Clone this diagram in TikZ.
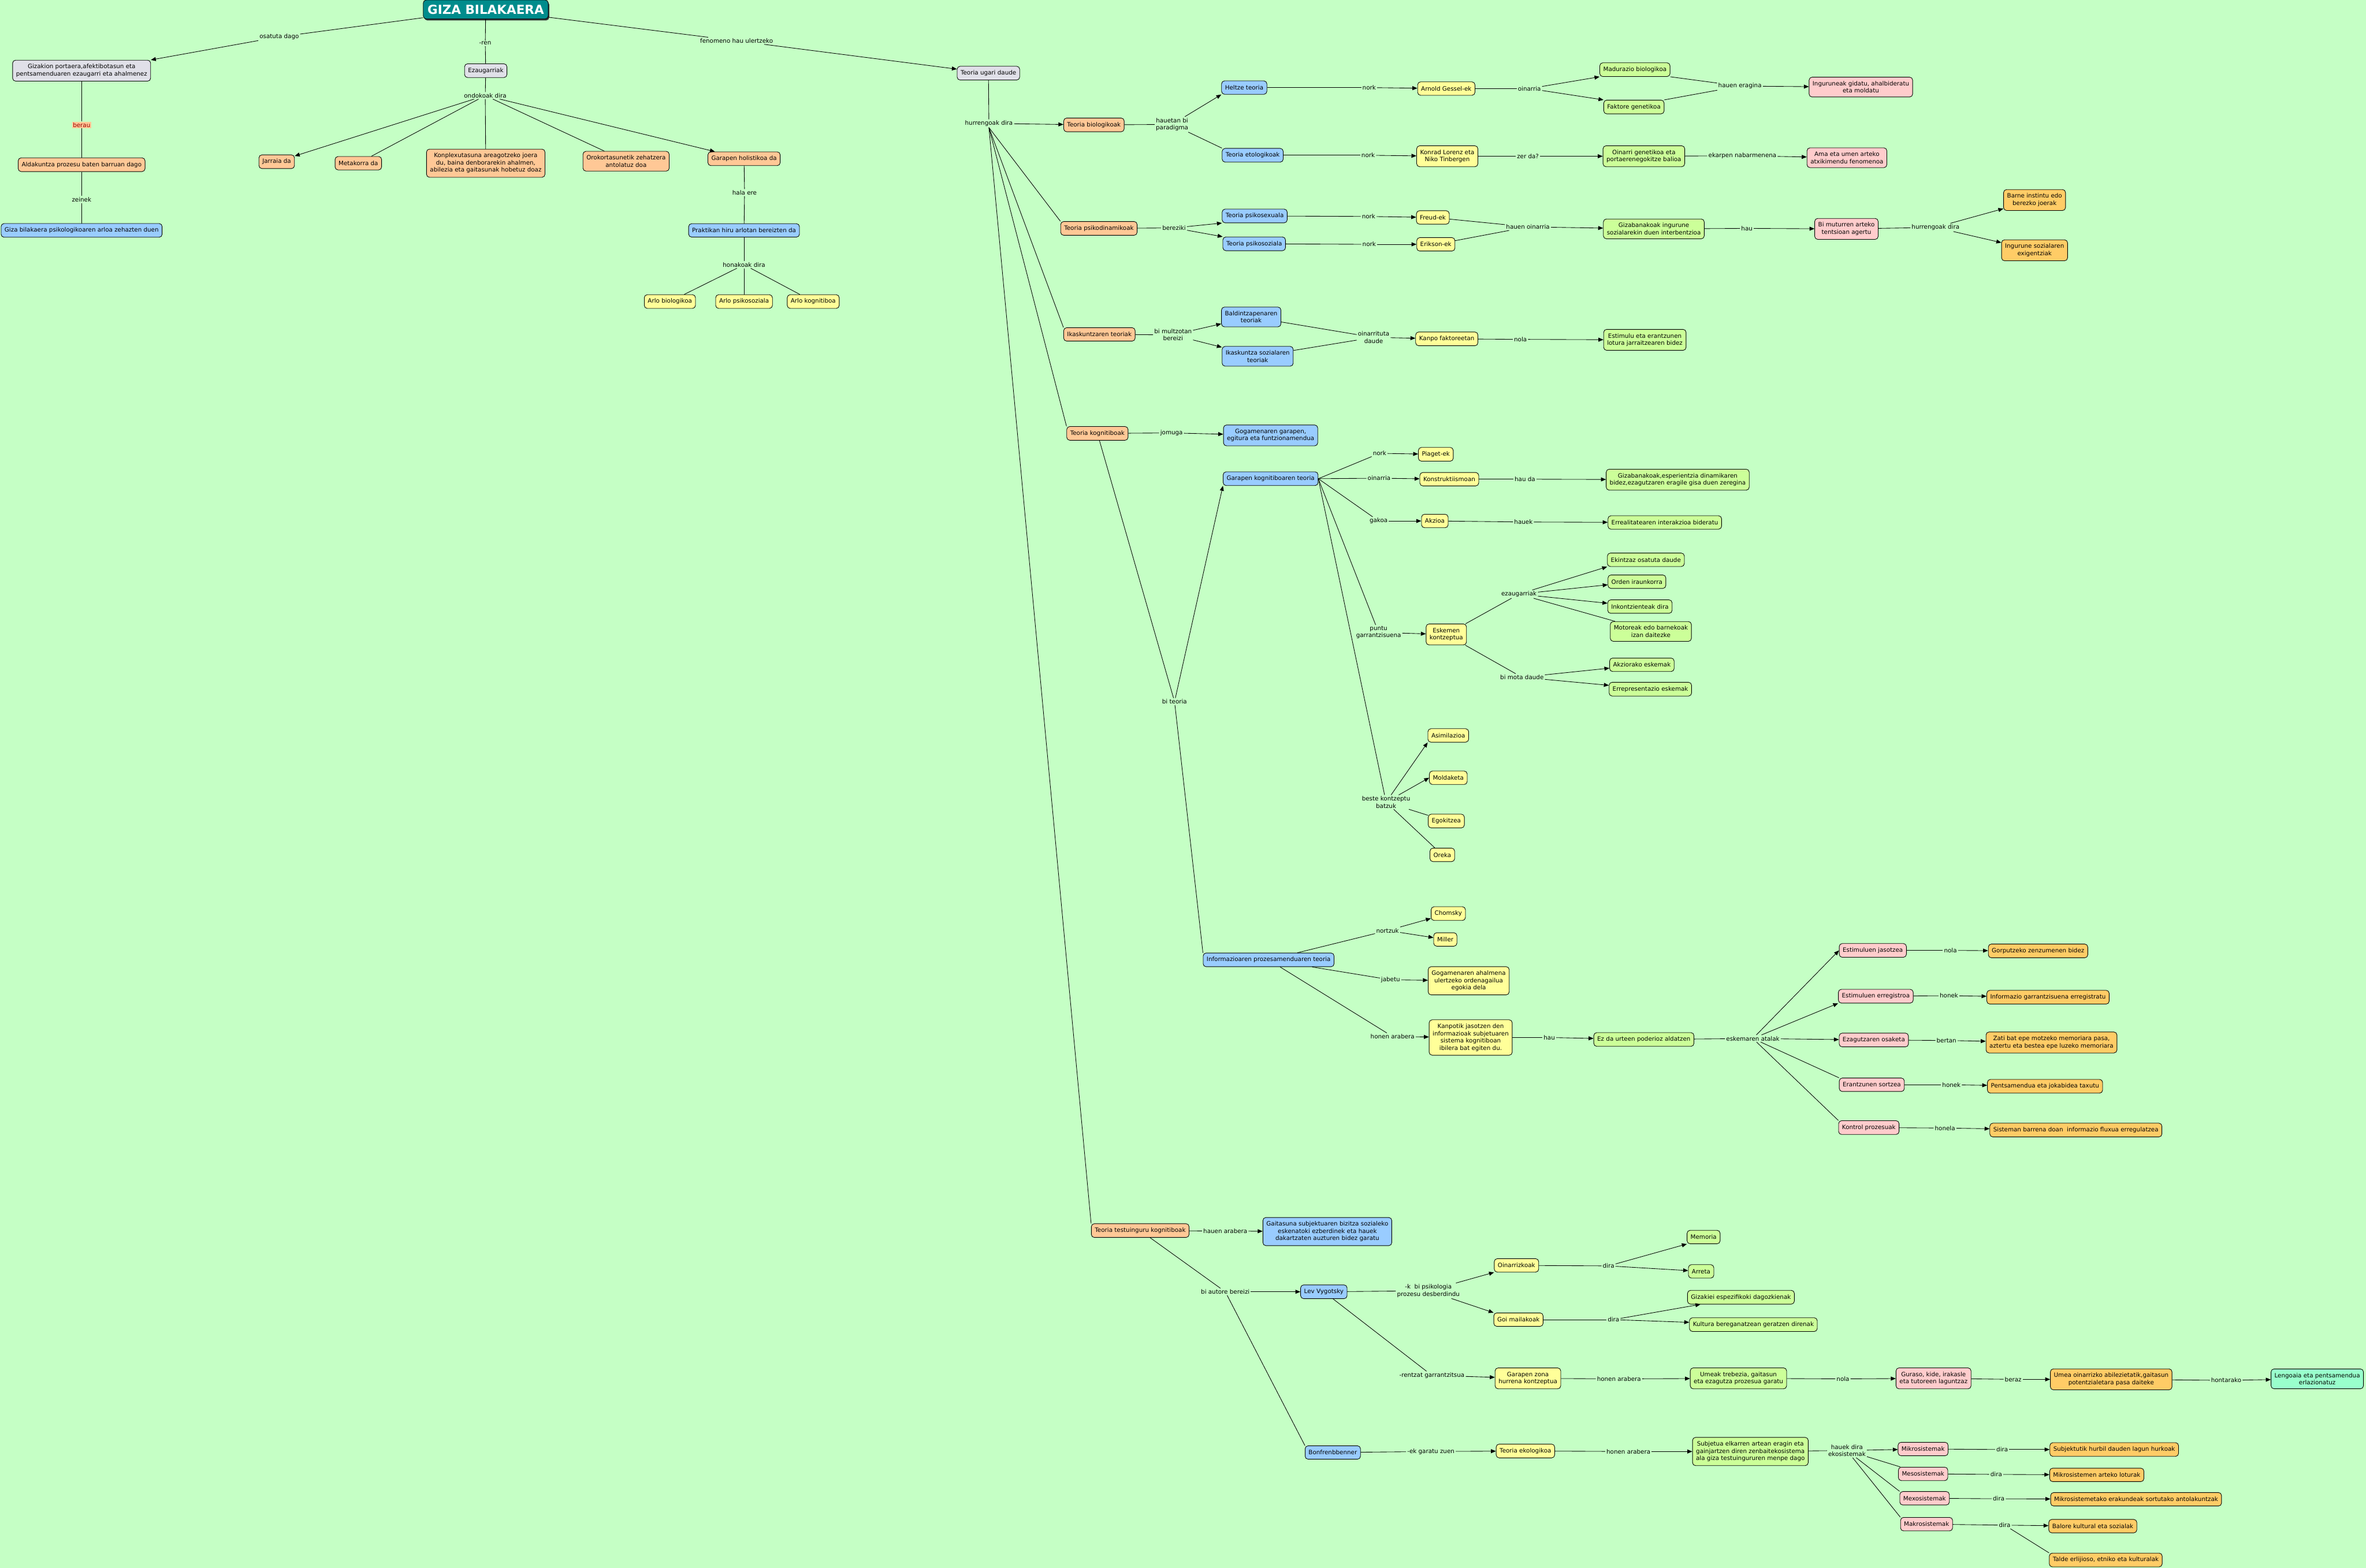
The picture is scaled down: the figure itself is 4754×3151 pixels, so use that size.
\documentclass[tikz,border=0pt]{standalone}
\usepackage{fontspec}
\setmainfont{DejaVu Sans}
\usetikzlibrary{arrows.meta, positioning, shadows}
\definecolor{bgc}{RGB}{197,255,197}
\definecolor{greyc}{RGB}{224,224,232}
\definecolor{peachc}{RGB}{255,200,150}
\definecolor{bluec}{RGB}{153,204,255}
\definecolor{yellowc}{RGB}{255,255,153}
\definecolor{limec}{RGB}{204,255,153}
\definecolor{pinkc}{RGB}{255,204,204}
\definecolor{orangec}{RGB}{255,204,102}
\definecolor{aquac}{RGB}{153,255,204}
\definecolor{tealc}{RGB}{0,140,140}

\begin{document}
\begin{tikzpicture}[
    x=1pt, y=-1pt, line width=1pt,
    box/.style={rectangle, draw, rounded corners=6pt, align=center, font=\fontsize{12}{14.5}\selectfont, inner xsep=7pt, inner ysep=8pt, minimum height=27pt},
    lbl/.style={align=center, font=\fontsize{12}{14.5}\selectfont, inner sep=2pt},
    arr/.style={-{Triangle[length=10pt, width=8pt]}}
]
\fill[bgc] (0,0) rectangle (4754,3151);
\useasboundingbox (0,0) rectangle (4754,3151);

% Title
\node[box, fill=tealc, text=white, font=\fontsize{25}{30}\selectfont\bfseries, minimum width=251pt, minimum height=38pt, inner ysep=3pt, drop shadow={shadow xshift=2pt, shadow yshift=-3pt, fill=black!80, opacity=1}] (title) at (976,19) {GIZA BILAKAERA};

% Left side
\node[box, fill=greyc] (gizakion) at (164,142) {Gizakion portaera,afektibotasun eta\\pentsamenduaren ezaugarri eta ahalmenez};
\node[box, fill=peachc] (aldak) at (164,331) {Aldakuntza prozesu baten barruan dago};
\node[box, fill=bluec] (gizabil) at (164,463) {Giza bilakaera psikologikoaren arloa zehazten duen};
\node[lbl] (osatuta) at (561,74) {osatuta dago};
\node[lbl, fill=peachc, text=red!60!black] (berau) at (164,251) {berau};
\node[lbl] (zeinek) at (164,401) {zeinek};

% Characteristics
\node[box, fill=greyc] (ezaug) at (976,142) {Ezaugarriak};
\node[lbl] (ren) at (975,87) {-ren};
\node[lbl] (ondok) at (975,192) {ondokoak dira};
\node[box, fill=peachc] (jarraia) at (556,325) {Jarraia da};
\node[box, fill=peachc] (metak) at (720,328) {Metakorra da};
\node[box, fill=peachc] (konplex) at (976,328) {Konplexutasuna areagotzeko joera\\du, baina denborarekin ahalmen,\\abilezia eta gaitasunak hobetuz doaz};
\node[box, fill=peachc] (orokor) at (1258,324) {Orokortasunetik zehatzera\\antolatuz doa};
\node[box, fill=peachc] (holis) at (1495,319) {Garapen holistikoa da};
\node[lbl] (halaere) at (1496,387) {hala ere};
\node[box, fill=bluec] (praktikan) at (1495,463) {Praktikan hiru arlotan bereizten da};
\node[lbl] (honakoak) at (1495,532) {honakoak dira};
\node[box, fill=yellowc] (arlobio) at (1346,606) {Arlo biologikoa};
\node[box, fill=yellowc] (arlopsi) at (1495,606) {Arlo psikosoziala};
\node[box, fill=yellowc] (arlokog) at (1634,606) {Arlo kognitiboa};

% Theories
\node[lbl] (fenom) at (1480,82) {fenomeno hau ulertzeko};
\node[box, fill=greyc] (ugari) at (1986,147) {Teoria ugari daude};
\node[lbl] (hurr) at (1987,248) {hurrengoak dira};

% Biological theories
\node[box, fill=peachc] (biolog) at (2198,251) {Teoria biologikoak};
\node[lbl] (paradig) at (2355,250) {hauetan bi\\paradigma};
\node[box, fill=bluec] (heltze) at (2500,176) {Heltze teoria};
\node[box, fill=bluec] (etolog) at (2517,312) {Teoria etologikoak};
\node[lbl] (norka) at (2751,176) {nork};
\node[lbl] (norkb) at (2749,312) {nork};
\node[box, fill=yellowc] (arnold) at (2906,178) {Arnold Gessel-ek};
\node[box, fill=yellowc] (konrad) at (2908,314) {Konrad Lorenz eta\\Niko Tinbergen};
\node[lbl] (oinarriaa) at (3073,178) {oinarria};
\node[lbl] (zerda) at (3070,314) {zer da?};
\node[box, fill=limec] (madur) at (3285,140) {Madurazio biologikoa};
\node[box, fill=limec] (faktore) at (3283,215) {Faktore genetikoa};
\node[box, fill=limec] (oinarrig) at (3303,314) {Oinarri genetikoa eta\\portaerenegokitze balioa};
\node[lbl] (eragina) at (3496,173) {hauen eragina};
\node[lbl] (ekarpen) at (3501,313) {ekarpen nabarmenena};
\node[box, fill=pinkc] (ingurun) at (3739,175) {Inguruneak gidatu, ahalbideratu\\eta moldatu};
\node[box, fill=pinkc] (ama) at (3711,317) {Ama eta umen arteko\\atxikimendu fenomenoa};

% Psychodynamic theories
\node[box, fill=peachc] (psikod) at (2208,459) {Teoria psikodinamikoak};
\node[lbl] (berez) at (2359,458) {bereziki};
\node[box, fill=bluec] (psikosex) at (2521,434) {Teoria psikosexuala};
\node[box, fill=bluec] (psikosoz) at (2520,490) {Teoria psikosoziala};
\node[lbl] (norkc) at (2750,435) {nork};
\node[lbl] (norkd) at (2751,491) {nork};
\node[box, fill=yellowc] (freud) at (2879,437) {Freud-ek};
\node[box, fill=yellowc] (erikson) at (2885,491) {Erikson-ek};
\node[lbl] (hauenoin) at (3070,456) {hauen oinarria};
\node[box, fill=limec] (gizaing) at (3323,460) {Gizabanakoak ingurune\\sozialarekin duen interbentzioa};
\node[lbl] (haua) at (3510,459) {hau};
\node[box, fill=pinkc] (muturr) at (3710,460) {Bi muturren arteko\\tentsioan agertu};
\node[lbl] (hurrb) at (3889,457) {hurrengoak dira};
\node[box, fill=orangec] (barne) at (4088,402) {Barne instintu edo\\berezko joerak};
\node[box, fill=orangec] (ingsoz) at (4088,503) {Ingurune sozialaren\\exigentziak};

% Learning theories
\node[box, fill=peachc] (ikask) at (2209,672) {Ikaskuntzaren teoriak};
\node[lbl] (multzo) at (2357,673) {bi multzotan\\bereizi};
\node[box, fill=bluec] (baldin) at (2514,637) {Baldintzapenaren\\teoriak};
\node[box, fill=bluec] (ikassoz) at (2527,716) {Ikaskuntza sozialaren\\teoriak};
\node[lbl] (oinarrit) at (2760,678) {oinarrituta\\daude};
\node[box, fill=yellowc] (kanpo) at (2907,681) {Kanpo faktoreetan};
\node[lbl] (nolaa) at (3055,682) {nola};
\node[box, fill=limec] (estim) at (3305,683) {Estimulu eta erantzunen\\lotura jarraitzearen bidez};

% Cognitive theories
\node[box, fill=peachc] (kognit) at (2205,871) {Teoria kognitiboak};
\node[lbl] (jomuga) at (2354,870) {jomuga};
\node[box, fill=bluec] (gogagar) at (2553,875) {Gogamenaren garapen,\\egitura eta funtzionamendua};
\node[lbl] (biteoria) at (2360,1410) {bi teoria};
\node[box, fill=bluec] (garkog) at (2553,962) {Garapen kognitiboaren teoria};
\node[lbl] (norke) at (2772,911) {nork};
\node[lbl] (oinarriab) at (2771,961) {oinarria};
\node[lbl] (gakoa) at (2770,1047) {gakoa};
\node[lbl] (puntu) at (2770,1271) {puntu\\garrantzisuena};
\node[lbl] (beste) at (2785,1612) {beste kontzeptu\\batzuk};
\node[box, fill=yellowc] (piaget) at (2885,913) {Piaget-ek};
\node[box, fill=yellowc] (konstr) at (2912,963) {Konstruktiismoan};
\node[box, fill=yellowc] (akzioa) at (2883,1047) {Akzioa};
\node[box, fill=yellowc] (eskemen) at (2906,1275) {Eskemen\\kontzeptua};
\node[lbl] (hauda) at (3064,963) {hau da};
\node[lbl] (hauek) at (3061,1049) {hauek};
\node[box, fill=limec] (gizaesp) at (3371,964) {Gizabanakoak,esperientzia dinamikaren\\bidez,ezagutzaren eragile gisa duen zeregina};
\node[box, fill=limec] (erreal) at (3345,1050) {Errealitatearen interakzioa bideratu};
\node[lbl] (ezaugb) at (3052,1194) {ezaugarriak};
\node[lbl] (bimota) at (3058,1361) {bi mota daude};
\node[box, fill=limec] (ekintz) at (3307,1125) {Ekintzaz osatuta daude};
\node[box, fill=limec] (orden) at (3289,1169) {Orden iraunkorra};
\node[box, fill=limec] (inkontz) at (3295,1219) {Inkontzienteak dira};
\node[box, fill=limec] (motor) at (3317,1269) {Motoreak edo barnekoak\\izan daitezke};
\node[box, fill=limec] (akzior) at (3299,1336) {Akziorako eskemak};
\node[box, fill=limec] (errepr) at (3316,1385) {Errepresentazio eskemak};
\node[box, fill=yellowc] (asimil) at (2910,1478) {Asimilazioa};
\node[box, fill=yellowc] (moldak) at (2910,1563) {Moldaketa};
\node[box, fill=yellowc] (egokit) at (2906,1650) {Egokitzea};
\node[box, fill=yellowc] (oreka) at (2898,1718) {Oreka};

% Information processing
\node[box, fill=bluec] (informa) at (2549,1929) {Informazioaren prozesamenduaren teoria};
\node[lbl] (nortzuk) at (2788,1870) {nortzuk};
\node[lbl] (jabetu) at (2794,1969) {jabetu};
\node[lbl] (honena) at (2798,2083) {honen arabera};
\node[box, fill=yellowc] (chomsky) at (2910,1836) {Chomsky};
\node[box, fill=yellowc] (miller) at (2904,1888) {Miller};
\node[box, fill=yellowc] (gogahal) at (2951,1971) {Gogamenaren ahalmena\\ulertzeko ordenagailua\\egokia dela};
\node[box, fill=yellowc] (kanpotik) at (2955,2085) {Kanpotik jasotzen den\\informazioak subjetuaren\\sistema kognitiboan\\ibilera bat egiten du.};
\node[lbl] (haub) at (3113,2085) {hau};
\node[box, fill=limec] (ezda) at (3303,2089) {Ez da urteen poderioz aldatzen};
\node[lbl] (atalak) at (3522,2087) {eskemaren atalak};
\node[box, fill=pinkc] (jasotz) at (3763,1910) {Estimuluen jasotzea};
\node[box, fill=pinkc] (erregis) at (3769,2002) {Estimuluen erregistroa};
\node[box, fill=pinkc] (osaket) at (3765,2090) {Ezagutzaren osaketa};
\node[box, fill=pinkc] (erantz) at (3761,2180) {Erantzunen sortzea};
\node[box, fill=pinkc] (kontrol) at (3755,2266) {Kontrol prozesuak};
\node[lbl] (nolab) at (3919,1910) {nola};
\node[lbl] (honeka) at (3916,2001) {honek};
\node[lbl] (bertan) at (3911,2091) {bertan};
\node[lbl] (honekb) at (3921,2180) {honek};
\node[lbl] (honela) at (3908,2267) {honela};
\node[box, fill=orangec] (gorputz) at (4095,1911) {Gorputzeko zenzumenen bidez};
\node[box, fill=orangec] (infogar) at (4115,2004) {Informazio garrantzisuena erregistratu};
\node[box, fill=orangec] (zati) at (4122,2095) {Zati bat epe motzeko memoriara pasa,\\aztertu eta bestea epe luzeko memoriara};
\node[box, fill=orangec] (pentsam) at (4109,2183) {Pentsamendua eta jokabidea taxutu};
\node[box, fill=orangec] (sisteman) at (4171,2271) {Sisteman barrena doan~ informazio fluxua erregulatzea};

% Context theories
\node[box, fill=peachc] (testuin) at (2291,2473) {Teoria testuinguru kognitiboak};
\node[lbl] (hauenar) at (2462,2474) {hauen arabera};
\node[box, fill=bluec] (gaitas) at (2667,2475) {Gaitasuna subjektuaren bizitza sozialeko\\eskenatoki ezberdinek eta hauek\\dakartzaten auzturen bidez garatu};
\node[lbl] (autore) at (2462,2596) {bi autore bereizi};
\node[box, fill=bluec] (vygot) at (2660,2596) {Lev Vygotsky};
\node[lbl] (psiko) at (2870,2594) {-k~ bi psikologia\\prozesu desberdindu};
\node[box, fill=yellowc] (oinarriz) at (3047,2543) {Oinarrizkoak};
\node[box, fill=yellowc] (goimail) at (3051,2652) {Goi mailakoak};
\node[lbl] (diraa) at (3232,2544) {dira};
\node[lbl] (dirab) at (3242,2652) {dira};
\node[box, fill=limec] (memoria) at (3423,2486) {Memoria};
\node[box, fill=limec] (arreta) at (3418,2555) {Arreta};
\node[box, fill=limec] (gizakiei) at (3498,2607) {Gizakiei espezifikoki dagozkienak};
\node[box, fill=limec] (kultura) at (3523,2662) {Kultura bereganatzean geratzen direnak};
\node[lbl] (rentzat) at (2877,2764) {-rentzat garrantzitsua};
\node[box, fill=yellowc] (zona) at (3070,2770) {Garapen zona\\hurrena kontzeptua};
\node[lbl] (honenb) at (3253,2771) {honen arabera};
\node[box, fill=limec] (umeak) at (3493,2770) {Umeak trebezia, gaitasun\\eta ezagutza prozesua garatu};
\node[lbl] (nolac) at (3703,2771) {nola};
\node[box, fill=pinkc] (guraso) at (3885,2770) {Guraso, kide, irakasle\\eta tutoreen laguntzaz};
\node[lbl] (beraz) at (4045,2772) {beraz};
\node[box, fill=orangec] (umea) at (4242,2772) {Umea oinarrizko abilezietatik,gaitasun\\potentzialetara pasa daiteke};
\node[lbl] (hontarako) at (4473,2774) {hontarako};
\node[box, fill=aquac] (lengoaia) at (4656,2771) {Lengoaia eta pentsamendua\\erlazionatuz};
\node[box, fill=bluec] (bonfren) at (2678,2919) {Bonfrenbbenner};
\node[lbl] (garatu) at (2875,2917) {-ek garatu zuen};
\node[box, fill=yellowc] (ekolog) at (3065,2916) {Teoria ekologikoa};
\node[lbl] (honenc) at (3272,2917) {honen arabera};
\node[box, fill=limec] (subjet) at (3517,2917) {Subjetua elkarren artean eragin eta\\gainjartzen diren zenbaitekosistema\\ala giza testuingururen menpe dago};
\node[lbl] (ekosis) at (3711,2915) {hauek dira\\ekosistemak};
\node[box, fill=pinkc] (mikro) at (3864,2912) {Mikrosistemak};
\node[box, fill=pinkc] (meso) at (3864,2962) {Mesosistemak};
\node[box, fill=pinkc] (mexo) at (3867,3011) {Mexosistemak};
\node[box, fill=pinkc] (makro) at (3871,3063) {Makrosistemak};
\node[lbl] (dirac) at (4023,2913) {dira};
\node[lbl] (dirad) at (4011,2963) {dira};
\node[lbl] (dirae) at (4016,3012) {dira};
\node[lbl] (diraf) at (4028,3065) {dira};
\node[box, fill=orangec] (subjekt) at (4248,2913) {Subjektutik hurbil dauden lagun hurkoak};
\node[box, fill=orangec] (mikroart) at (4213,2964) {Mikrosistemen arteko loturak};
\node[box, fill=orangec] (mikroera) at (4292,3013) {Mikrosistemetako erakundeak sortutako antolakuntzak};
\node[box, fill=orangec] (balore) at (4205,3067) {Balore kultural eta sozialak};
\node[box, fill=orangec] (talde) at (4231,3135) {Talde erlijioso, etniko eta kulturalak};

% Links: left side and characteristics
\draw (title) -- (osatuta);
\draw[arr] (osatuta) -- (gizakion.north east);
\draw (gizakion) -- (berau);
\draw (berau) -- (aldak);
\draw (aldak) -- (zeinek);
\draw (zeinek) -- (gizabil);
\draw (title) -- (ren);
\draw (ren) -- (ezaug);
\draw (ezaug) -- (ondok);
\draw[arr] (ondok) -- (jarraia);
\draw (ondok) -- (metak);
\draw (ondok) -- (konplex);
\draw (ondok) -- (orokor);
\draw[arr] (ondok) -- (holis);
\draw (holis) -- (halaere);
\draw (halaere) -- (praktikan);
\draw (praktikan) -- (honakoak);
\draw (honakoak) -- (arlobio);
\draw (honakoak) -- (arlopsi);
\draw (honakoak) -- (arlokog);

% Links: theories
\draw (title) -- (fenom);
\draw[arr] (fenom) -- (ugari);
\draw (ugari) -- (hurr);
\draw[arr] (hurr) -- (biolog);
\draw (hurr.south) -- (psikod.north west);
\draw (hurr.south) -- (ikask.north west);
\draw (hurr.south) -- (kognit.north west);
\draw (hurr.south) -- (testuin.north west);

\draw (biolog) -- (paradig);
\draw[arr] (paradig) -- (heltze.south west);
\draw (paradig) -- (etolog.north west);
\draw (heltze) -- (norka);
\draw[arr] (norka) -- (arnold);
\draw (arnold) -- (oinarriaa);
\draw[arr] (oinarriaa) -- (madur.south west);
\draw[arr] (oinarriaa) -- (faktore.north west);
\draw (madur.south east) -- (eragina);
\draw (faktore.north east) -- (eragina);
\draw[arr] (eragina) -- (ingurun);
\draw (etolog) -- (norkb);
\draw[arr] (norkb) -- (konrad);
\draw (konrad) -- (zerda);
\draw[arr] (zerda) -- (oinarrig);
\draw (oinarrig) -- (ekarpen);
\draw[arr] (ekarpen) -- (ama);

\draw (psikod) -- (berez);
\draw[arr] (berez) -- (psikosex.south west);
\draw[arr] (berez) -- (psikosoz.north west);
\draw (psikosex) -- (norkc);
\draw[arr] (norkc) -- (freud);
\draw (psikosoz) -- (norkd);
\draw[arr] (norkd) -- (erikson);
\draw (freud) -- (hauenoin);
\draw (erikson) -- (hauenoin);
\draw[arr] (hauenoin) -- (gizaing);
\draw (gizaing) -- (haua);
\draw[arr] (haua) -- (muturr);
\draw (muturr) -- (hurrb);
\draw[arr] (hurrb) -- (barne);
\draw[arr] (hurrb) -- (ingsoz);

\draw (ikask) -- (multzo);
\draw[arr] (multzo) -- (baldin);
\draw[arr] (multzo) -- (ikassoz);
\draw (baldin) -- (oinarrit);
\draw (ikassoz) -- (oinarrit);
\draw[arr] (oinarrit) -- (kanpo);
\draw (kanpo) -- (nolaa);
\draw[arr] (nolaa) -- (estim);

% Links: cognitive theories
\draw (kognit) -- (jomuga);
\draw[arr] (jomuga) -- (gogagar);
\draw (kognit) -- (biteoria);
\draw[arr] (biteoria) -- (garkog.south west);
\draw (biteoria) -- (informa.north west);
\draw (garkog.east) -- (norke);
\draw[arr] (norke) -- (piaget);
\draw (garkog.east) -- (oinarriab);
\draw[arr] (oinarriab) -- (konstr);
\draw (konstr) -- (hauda);
\draw[arr] (hauda) -- (gizaesp);
\draw (garkog.east) -- (gakoa);
\draw[arr] (gakoa) -- (akzioa);
\draw (akzioa) -- (hauek);
\draw[arr] (hauek) -- (erreal);
\draw (garkog.east) -- (puntu);
\draw[arr] (puntu) -- (eskemen);
\draw (eskemen) -- (ezaugb);
\draw[arr] (ezaugb) -- (ekintz.south west);
\draw[arr] (ezaugb) -- (orden);
\draw[arr] (ezaugb) -- (inkontz);
\draw (ezaugb) -- (motor);
\draw (eskemen) -- (bimota);
\draw[arr] (bimota) -- (akzior);
\draw[arr] (bimota) -- (errepr);
\draw (garkog.east) -- (beste);
\draw[arr] (beste) -- (asimil.south west);
\draw[arr] (beste) -- (moldak.west);
\draw (beste) -- (egokit);
\draw (beste) -- (oreka);

\draw (informa) -- (nortzuk);
\draw[arr] (nortzuk) -- (chomsky);
\draw[arr] (nortzuk) -- (miller);
\draw (informa) -- (jabetu);
\draw[arr] (jabetu) -- (gogahal);
\draw (informa) -- (honena);
\draw[arr] (honena) -- (kanpotik);
\draw (kanpotik) -- (haub);
\draw[arr] (haub) -- (ezda);
\draw (ezda) -- (atalak);
\draw[arr] (atalak) -- (jasotz.west);
\draw[arr] (atalak) -- (erregis.south west);
\draw[arr] (atalak) -- (osaket);
\draw (atalak) -- (erantz.north west);
\draw (atalak) -- (kontrol.north west);
\draw (jasotz) -- (nolab);
\draw[arr] (nolab) -- (gorputz);
\draw (erregis) -- (honeka);
\draw[arr] (honeka) -- (infogar);
\draw (osaket) -- (bertan);
\draw[arr] (bertan) -- (zati);
\draw (erantz) -- (honekb);
\draw[arr] (honekb) -- (pentsam);
\draw (kontrol) -- (honela);
\draw[arr] (honela) -- (sisteman);

% Links: context theories
\draw (testuin) -- (hauenar);
\draw[arr] (hauenar) -- (gaitas);
\draw (testuin) -- (autore);
\draw[arr] (autore) -- (vygot);
\draw (autore) -- (bonfren.north west);
\draw (vygot) -- (psiko);
\draw[arr] (psiko) -- (oinarriz.south west);
\draw[arr] (psiko) -- (goimail.north west);
\draw (oinarriz) -- (diraa);
\draw[arr] (diraa) -- (memoria.south west);
\draw[arr] (diraa) -- (arreta);
\draw (goimail) -- (dirab);
\draw[arr] (dirab) -- (gizakiei);
\draw[arr] (dirab) -- (kultura);
\draw (vygot) -- (rentzat);
\draw[arr] (rentzat) -- (zona);
\draw (zona) -- (honenb);
\draw[arr] (honenb) -- (umeak);
\draw (umeak) -- (nolac);
\draw[arr] (nolac) -- (guraso);
\draw (guraso) -- (beraz);
\draw[arr] (beraz) -- (umea);
\draw (umea) -- (hontarako);
\draw[arr] (hontarako) -- (lengoaia);
\draw (bonfren) -- (garatu);
\draw[arr] (garatu) -- (ekolog);
\draw (ekolog) -- (honenc);
\draw[arr] (honenc) -- (subjet);
\draw (subjet) -- (ekosis);
\draw[arr] (ekosis) -- (mikro);
\draw (ekosis) -- (meso);
\draw (ekosis) -- (mexo.north west);
\draw (ekosis) -- (makro.north west);
\draw (mikro) -- (dirac);
\draw[arr] (dirac) -- (subjekt);
\draw (meso) -- (dirad);
\draw[arr] (dirad) -- (mikroart);
\draw (mexo) -- (dirae);
\draw[arr] (dirae) -- (mikroera);
\draw (makro) -- (diraf);
\draw[arr] (diraf) -- (balore);
\draw (diraf) -- (talde.north west);
\end{tikzpicture}
\end{document}
